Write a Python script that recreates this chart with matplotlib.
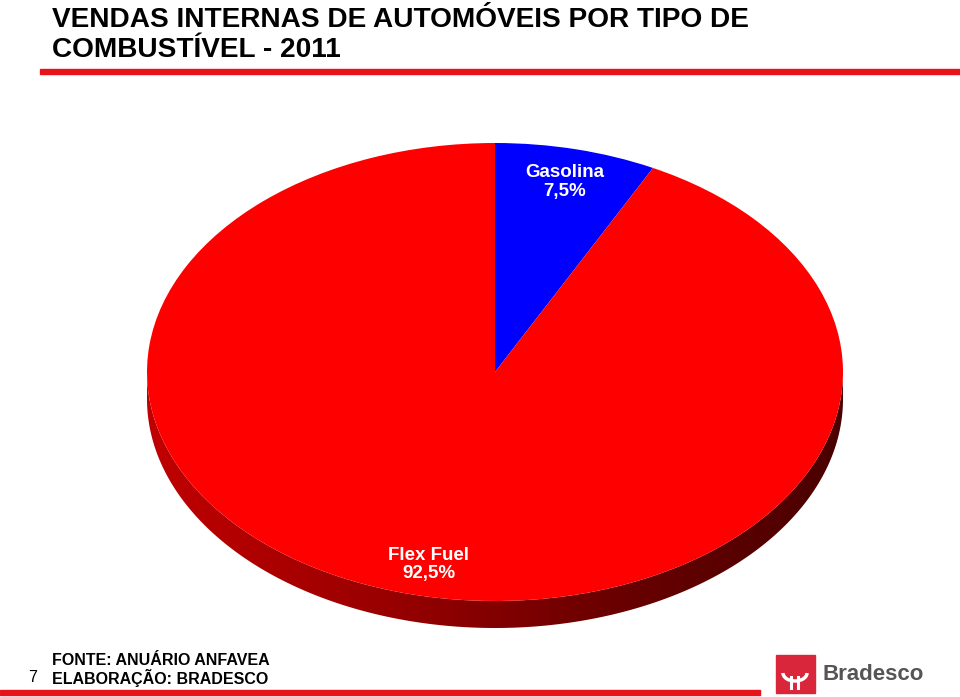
import numpy as np
import matplotlib.pyplot as plt
from matplotlib.patches import Polygon, Rectangle, Arc
from matplotlib.colors import LinearSegmentedColormap

plt.rcParams['font.family'] = ['Liberation Sans', 'DejaVu Sans']

# 데이터
tipos = ['Gasolina', 'Flex Fuel']
valores = [7.5, 92.5]
rotulos = ['7,5%', '92,5%']
cores = ['#0000ff', '#ff0000']

W, H = 960, 697
fig = plt.figure(figsize=(W / 100, H / 100), dpi=100)

# 파이 영역 (픽셀 기준 타원 147~843, 위 143, 중심 372)
cx_l, cx_r = 147, 843
top, cy = 143, 372
ry = cy - top
bottom_px = 650
ax = fig.add_axes([cx_l / W, 1 - bottom_px / H, (cx_r - cx_l) / W, (bottom_px - top) / H])

depth = 27 / ry

# 옆면 (어두운 빨강 그라데이션)
t = np.linspace(np.pi, 2 * np.pi, 200)
xs, ys = np.cos(t), np.sin(t)
pts = np.concatenate([np.column_stack([xs, ys]), np.column_stack([xs[::-1], ys[::-1] - depth])])
side = Polygon(pts, closed=True, facecolor='none', edgecolor='none')
ax.add_patch(side)
grad = np.linspace(0, 1, 256).reshape(1, -1)
cmap = LinearSegmentedColormap.from_list('lado', ['#c00000', '#9a0000', '#6a0000', '#4a0000'])
im = ax.imshow(grad, extent=[-1, 1, -1 - depth, 0], cmap=cmap, aspect='auto', zorder=1)
im.set_clip_path(side)

# 윗면 파이
wedges, _ = ax.pie(valores, colors=cores, startangle=90, counterclock=False,
                   radius=1, wedgeprops=dict(linewidth=0, zorder=2), normalize=True)
ax.set_xlim(-1, 1)
ax.set_ylim(1 - (bottom_px - top) / ry, 1)
ax.set_aspect('auto')
ax.axis('off')

ax.text(0.2, 0.83, tipos[0] + '\n' + rotulos[0], color='white', fontsize=13.5, fontweight='bold',
        ha='center', va='center', linespacing=1.1, zorder=5)
ax.text(-0.19, -0.84, tipos[1] + '\n' + rotulos[1], color='white', fontsize=13.5, fontweight='bold',
        ha='center', va='center', linespacing=1.1, zorder=5)

# 제목
fig.text(52 / W, 1 - 7 / H, 'VENDAS INTERNAS DE AUTOMÓVEIS POR TIPO DE\nCOMBUSTÍVEL - 2011',
         fontsize=20.2, fontweight='bold', ha='left', va='top', linespacing=1.2)

ov = fig.add_axes([0, 0, 1, 1])
ov.set_xlim(0, W)
ov.set_ylim(H, 0)
ov.axis('off')
ov.add_patch(Rectangle((40, 69), W - 40, 5, color='#e8121b'))
ov.add_patch(Rectangle((0, 690), 760, 5, color='#e8121b'))

# 출처
ov.text(52, 670, 'FONTE: ANUÁRIO ANFAVEA\nELABORAÇÃO: BRADESCO', fontsize=11.5,
        fontweight='bold', ha='left', va='center', linespacing=1.05)
ov.text(33, 677, '7', fontsize=11.5, ha='center', va='center')

# 로고
ov.add_patch(Rectangle((776, 655), 39, 38, color='#d9263a'))
ov.add_patch(Arc((795, 673), 24, 16, theta1=0, theta2=180, color='white', lw=2.5))
ov.plot([791, 791], [677, 688], color='white', lw=2.2)
ov.plot([798, 798], [677, 688], color='white', lw=2.2)
ov.text(822, 675, 'Bradesco', fontsize=16, fontweight='bold', color='#555555',
        ha='left', va='center')

fig.savefig('out.png', dpi=100)
